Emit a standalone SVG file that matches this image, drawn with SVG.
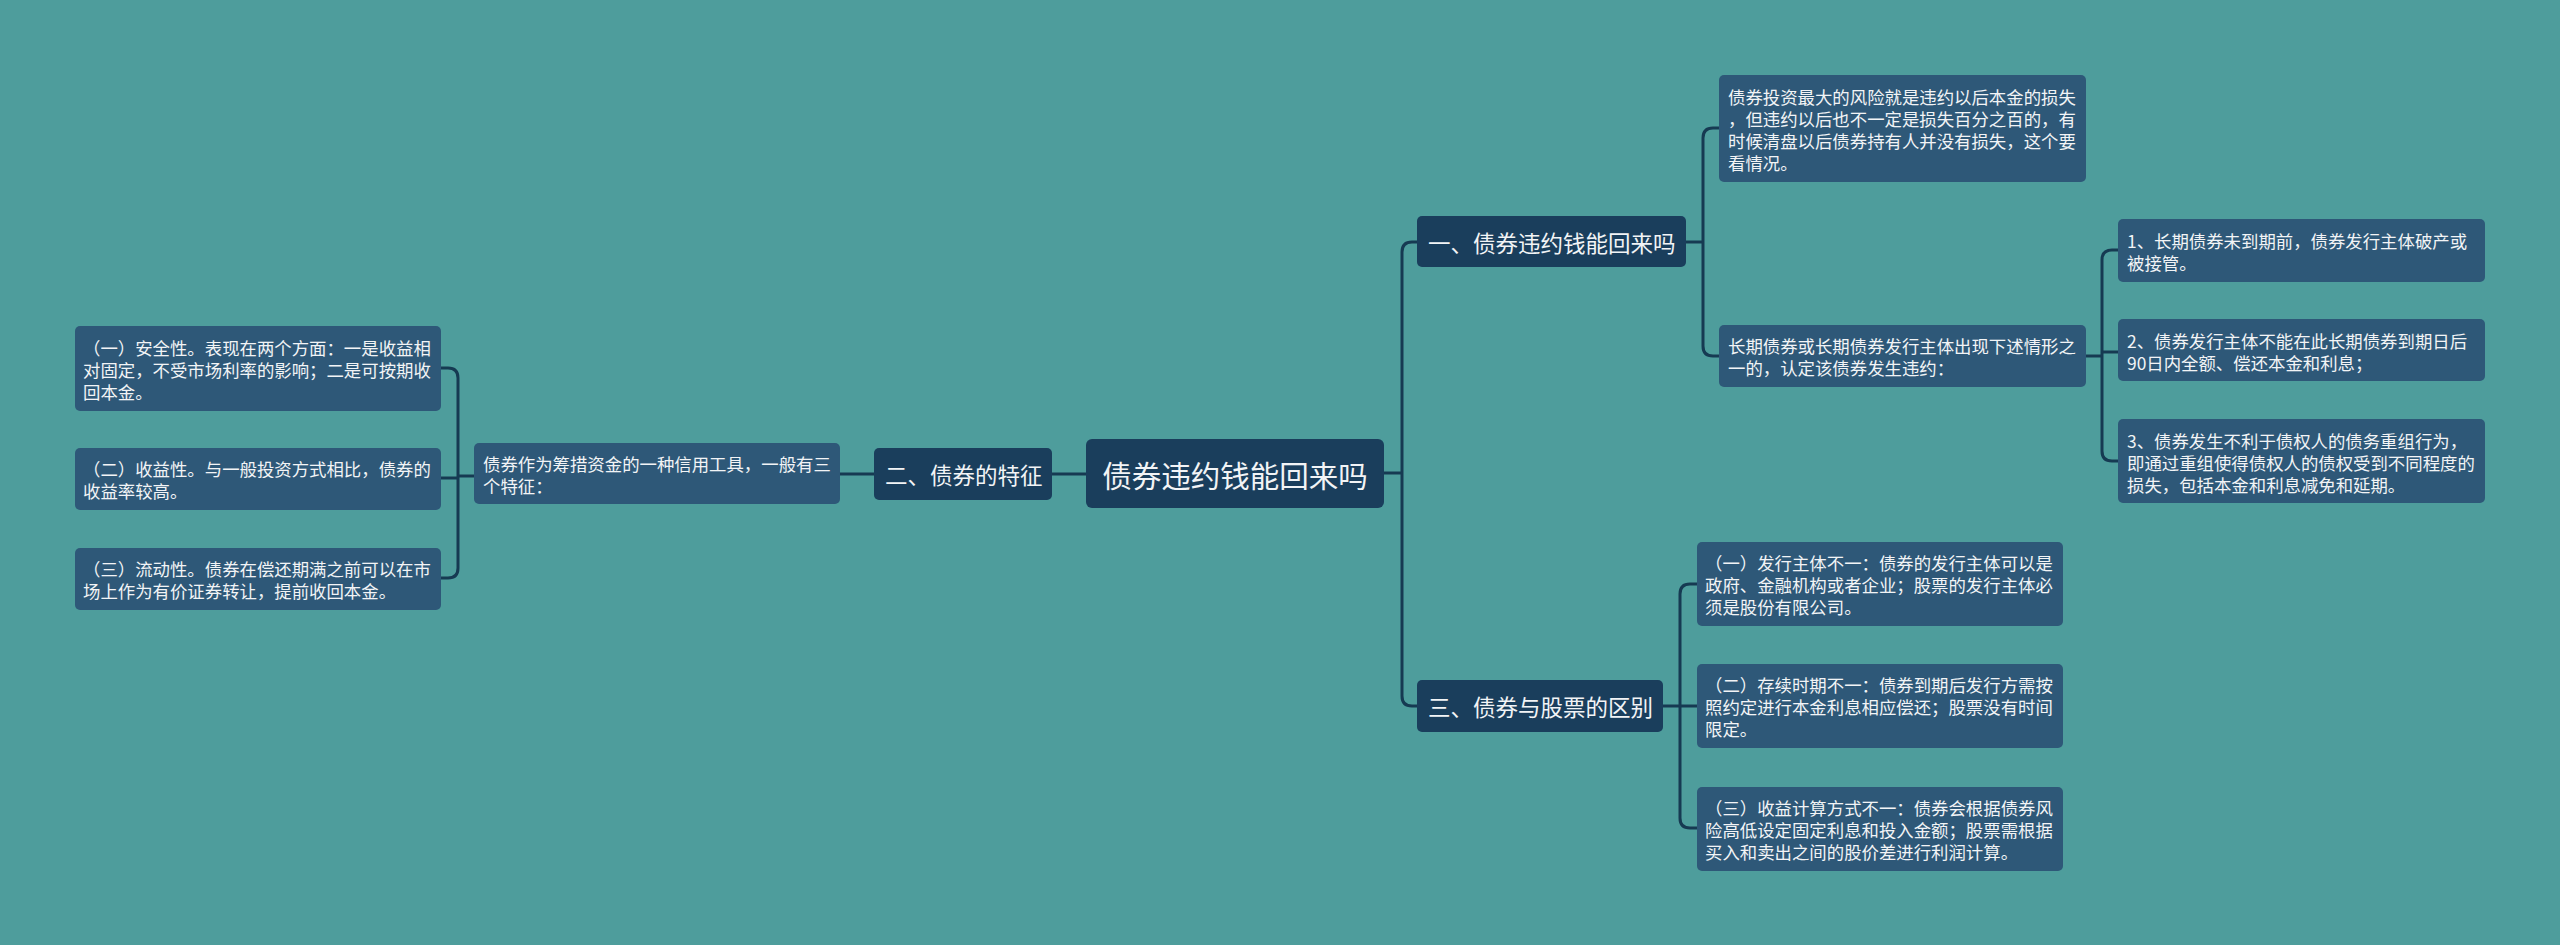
<svg xmlns="http://www.w3.org/2000/svg" width="2560" height="945" viewBox="0 0 2560 945">
<style>
.bg{fill:#4e9d9c}
.root{fill:#1a3e5c}
.main{fill:#1a3e5c}
.leaf{fill:#2e5878}
.t{fill:#f2f4f6;font-family:"Microsoft YaHei","Noto Sans CJK SC","Noto Sans",sans-serif;dominant-baseline:central}
.tr{font-size:29.5px}
.tm{font-size:22.5px}
.tl{font-size:17.4px}
.ln{fill:none;stroke:#163a52;stroke-width:3}
</style>
<rect class="bg" x="0" y="0" width="2560" height="945"/>
<g id="connectors">
<path class="ln" d="M1384 473 H1402"/>
<path class="ln" d="M1417 242 H1412 Q1402 242 1402 252 V696 Q1402 706 1412 706 H1417"/>
<path class="ln" d="M1086 474 H1052"/>
<path class="ln" d="M874 474 H840"/>
<path class="ln" d="M474 476 H458"/>
<path class="ln" d="M441 368 H448 Q458 368 458 378 V568 Q458 578 448 578 H441"/>
<path class="ln" d="M441 478 H458"/>
<path class="ln" d="M1686 242 H1703"/>
<path class="ln" d="M1719 128 H1713 Q1703 128 1703 138 V346 Q1703 356 1713 356 H1719"/>
<path class="ln" d="M2086 356 H2102"/>
<path class="ln" d="M2118 250 H2112 Q2102 250 2102 260 V451 Q2102 461 2112 461 H2118"/>
<path class="ln" d="M2102 352 H2118"/>
<path class="ln" d="M1663 706 H1697"/>
<path class="ln" d="M1697 584 H1690 Q1680 584 1680 594 V818 Q1680 828 1690 828 H1697"/>
</g>
<g id="root">
<rect class="root" x="1086" y="439" width="298" height="69" rx="6"/>
<text class="t tr" x="1235" y="474" text-anchor="middle">债券违约钱能回来吗</text>
</g>
<g id="b1">
<rect class="main" x="1417" y="216" width="269" height="51" rx="5"/>
<text class="t tm" x="1428" y="242">一、债券违约钱能回来吗</text>
</g>
<g id="b2">
<rect class="main" x="874" y="448" width="178" height="52" rx="5"/>
<text class="t tm" x="885" y="474">二、债券的特征</text>
</g>
<g id="b3">
<rect class="main" x="1417" y="680" width="246" height="52" rx="5"/>
<text class="t tm" x="1428" y="706">三、债券与股票的区别</text>
</g>
<g id="l1a">
<rect class="leaf" x="1719" y="75" width="367" height="107" rx="5"/>
<text class="t tl" x="1728" y="96">债券投资最大的风险就是违约以后本金的损失</text>
<text class="t tl" x="1728" y="118">，但违约以后也不一定是损失百分之百的，有</text>
<text class="t tl" x="1728" y="140">时候清盘以后债券持有人并没有损失，这个要</text>
<text class="t tl" x="1728" y="162">看情况。</text>
</g>
<g id="l1b">
<rect class="leaf" x="1719" y="325" width="367" height="62" rx="5"/>
<text class="t tl" x="1728" y="345">长期债券或长期债券发行主体出现下述情形之</text>
<text class="t tl" x="1728" y="367">一的，认定该债券发生违约：</text>
</g>
<g id="c1">
<rect class="leaf" x="2118" y="219" width="367" height="63" rx="5"/>
<text class="t tl" x="2127" y="240">1、长期债券未到期前，债券发行主体破产或</text>
<text class="t tl" x="2127" y="262">被接管。</text>
</g>
<g id="c2">
<rect class="leaf" x="2118" y="319" width="367" height="62" rx="5"/>
<text class="t tl" x="2127" y="340">2、债券发行主体不能在此长期债券到期日后</text>
<text class="t tl" x="2127" y="362">90日内全额、偿还本金和利息；</text>
</g>
<g id="c3">
<rect class="leaf" x="2118" y="419" width="367" height="84" rx="5"/>
<text class="t tl" x="2127" y="440">3、债券发生不利于债权人的债务重组行为，</text>
<text class="t tl" x="2127" y="462">即通过重组使得债权人的债权受到不同程度的</text>
<text class="t tl" x="2127" y="484">损失，包括本金和利息减免和延期。</text>
</g>
<g id="d1">
<rect class="leaf" x="1697" y="542" width="366" height="84" rx="5"/>
<text class="t tl" x="1705" y="562">（一）发行主体不一：债券的发行主体可以是</text>
<text class="t tl" x="1705" y="584">政府、金融机构或者企业；股票的发行主体必</text>
<text class="t tl" x="1705" y="606">须是股份有限公司。</text>
</g>
<g id="d2">
<rect class="leaf" x="1697" y="664" width="366" height="84" rx="5"/>
<text class="t tl" x="1705" y="684">（二）存续时期不一：债券到期后发行方需按</text>
<text class="t tl" x="1705" y="706">照约定进行本金利息相应偿还；股票没有时间</text>
<text class="t tl" x="1705" y="728">限定。</text>
</g>
<g id="d3">
<rect class="leaf" x="1697" y="787" width="366" height="84" rx="5"/>
<text class="t tl" x="1705" y="807">（三）收益计算方式不一：债券会根据债券风</text>
<text class="t tl" x="1705" y="829">险高低设定固定利息和投入金额；股票需根据</text>
<text class="t tl" x="1705" y="851">买入和卖出之间的股价差进行利润计算。</text>
</g>
<g id="f0">
<rect class="leaf" x="474" y="443" width="366" height="61" rx="5"/>
<text class="t tl" x="483" y="463">债券作为筹措资金的一种信用工具，一般有三</text>
<text class="t tl" x="483" y="485">个特征：</text>
</g>
<g id="f1">
<rect class="leaf" x="75" y="326" width="366" height="85" rx="5"/>
<text class="t tl" x="83" y="347">（一）安全性。表现在两个方面：一是收益相</text>
<text class="t tl" x="83" y="369">对固定，不受市场利率的影响；二是可按期收</text>
<text class="t tl" x="83" y="391">回本金。</text>
</g>
<g id="f2">
<rect class="leaf" x="75" y="448" width="366" height="62" rx="5"/>
<text class="t tl" x="83" y="468">（二）收益性。与一般投资方式相比，债券的</text>
<text class="t tl" x="83" y="490">收益率较高。</text>
</g>
<g id="f3">
<rect class="leaf" x="75" y="548" width="366" height="62" rx="5"/>
<text class="t tl" x="83" y="568">（三）流动性。债券在偿还期满之前可以在市</text>
<text class="t tl" x="83" y="590">场上作为有价证券转让，提前收回本金。</text>
</g>
</svg>
